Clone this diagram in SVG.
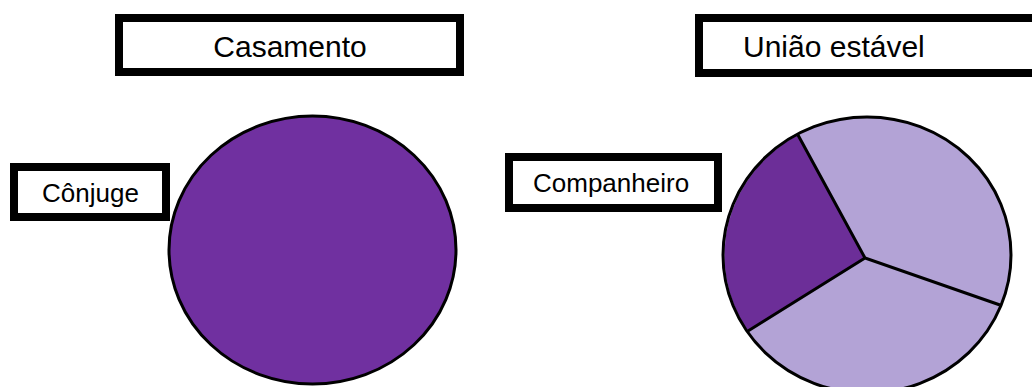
<svg xmlns="http://www.w3.org/2000/svg" width="1032" height="387" viewBox="0 0 1032 387">
<style>
.box{fill:#fff;stroke:#000;stroke-width:8}
.t{font-family:"Liberation Sans",Arial,sans-serif;fill:#000}
.big{font-size:30px}
.sm{font-size:26px}
</style>
<rect width="1032" height="387" fill="#fff"/>
<g id="casamento-title">
<rect class="box" x="119" y="18" width="341" height="54"/>
<text class="t big" x="290" y="57" text-anchor="middle">Casamento</text>
</g>
<g id="uniao-title">
<rect class="box" x="699" y="18" width="400" height="55"/>
<text class="t big" x="743" y="57">União estável</text>
</g>
<g id="conjuge">
<rect class="box" x="14" y="167" width="152" height="50"/>
<text class="t sm" x="42" y="202">Cônjuge</text>
</g>
<g id="companheiro">
<rect class="box" x="509" y="157" width="209" height="51"/>
<text class="t sm" x="533" y="192">Companheiro</text>
</g>
<g id="casamento-circle">
<ellipse cx="312.5" cy="250" rx="143.5" ry="134" fill="#7030A0" stroke="#000" stroke-width="3"/>
</g>
<g id="uniao-pie">
<ellipse cx="867" cy="255" rx="144" ry="138" fill="#B3A3D6"/>
<path d="M865,258 L798,135 A144,138 0 0,0 748,331 Z" fill="#6C2E98"/>
<g stroke="#000" stroke-width="3" fill="none">
<path d="M798,135 L865,258 L1000,305 M865,258 L748,331"/>
<ellipse cx="867" cy="255" rx="144" ry="138"/>
</g>
</g>
</svg>
